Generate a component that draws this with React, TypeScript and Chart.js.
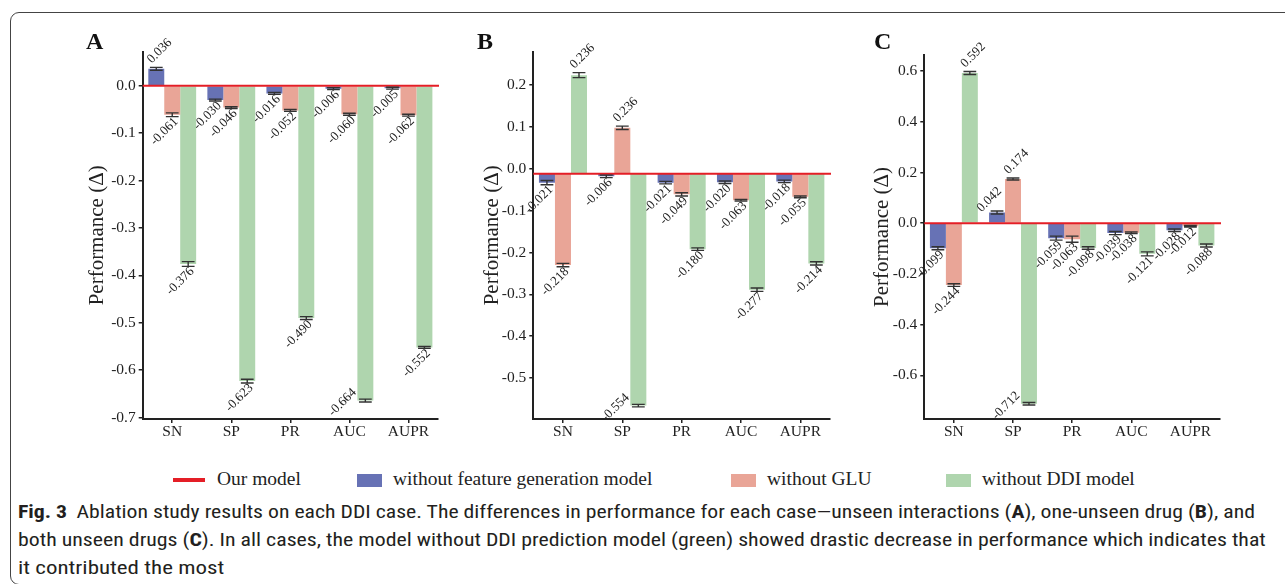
import React, { useEffect, useLayoutEffect, useRef } from "react";
import { Chart, registerables } from "chart.js";

Chart.register(...registerables);

// ---------------- data ----------------
const CATEGORIES = ["SN", "SP", "PR", "AUC", "AUPR"];
const LEGEND_OUR = "Our model";
const SERIES_NAMES = ["without feature generation model", "without GLU", "without DDI model"];
const Y_TITLE = "Performance (\u0394)";

// Panel A (unseen interactions)
const A_FEATURE = [0.036, -0.03, -0.016, -0.006, -0.005];
const A_GLU = [-0.061, -0.046, -0.052, -0.06, -0.062];
const A_DDI = [-0.376, -0.623, -0.49, -0.664, -0.552];
const A_FEATURE_ERR = [0.003, 0.002, 0.002, 0.002, 0.002];
const A_GLU_ERR = [0.004, 0.002, 0.002, 0.002, 0.002];
const A_DDI_ERR = [0.005, 0.004, 0.003, 0.003, 0.002];
const A_BASELINE = 0;
const A_Y_MIN = -0.703;
const A_Y_MAX = 0.072;
const A_Y_STEP = 0.1;

// Panel B (one-unseen drug) : bars start at the shifted reference line
const B_FEATURE = [-0.033, -0.018, -0.033, -0.032, -0.03];
const B_GLU = [-0.23, 0.098, -0.061, -0.075, -0.067];
const B_DDI = [0.224, -0.566, -0.192, -0.289, -0.226];
const B_FEATURE_LABEL = [-0.021, -0.006, -0.021, -0.02, -0.018];
const B_GLU_LABEL = [-0.218, 0.236, -0.049, -0.063, -0.055];
const B_DDI_LABEL = [0.236, -0.554, -0.18, -0.277, -0.214];
const B_FEATURE_ERR = [0.005, 0.003, 0.003, 0.003, 0.003];
const B_GLU_ERR = [0.004, 0.004, 0.004, 0.002, 0.002];
const B_DDI_ERR = [0.006, 0.003, 0.003, 0.004, 0.004];
const B_BASELINE = -0.012;
const B_Y_MIN = -0.598;
const B_Y_MAX = 0.28;
const B_Y_STEP = 0.1;

// Panel C (both unseen drugs)
const C_FEATURE = [-0.099, 0.042, -0.059, -0.039, -0.028];
const C_GLU = [-0.244, 0.174, -0.063, -0.038, -0.012];
const C_DDI = [0.592, -0.712, -0.098, -0.121, -0.088];
const C_FEATURE_ERR = [0.006, 0.006, 0.008, 0.006, 0.005];
const C_GLU_ERR = [0.005, 0.004, 0.012, 0.003, 0.003];
const C_DDI_ERR = [0.006, 0.005, 0.005, 0.008, 0.006];
const C_BASELINE = 0;
const C_Y_MIN = -0.772;
const C_Y_MAX = 0.663;
const C_Y_STEP = 0.2;

// ---------------- style ----------------
const BLUE = "#6772B5";
const SALMON = "#E9A597";
const GREEN = "#AFD5AE";
const RED = "#E41E26";
const AXIS = "#222222";
const TEXT = "#222222";
const SERIF = '"Liberation Serif", "Times New Roman", Times, serif';
const SANS_NARROW =
  '"Liberation Sans Narrow", "Roboto Condensed", "DejaVu Sans Condensed", "Open Sans", sans-serif';

type PanelSpec = {
  letter: string;
  series: number[][];
  labels: number[][];
  errors: number[][];
  baseline: number;
  yMin: number;
  yMax: number;
  yStep: number;
  left: number;
  top: number;
  w: number;
  h: number;
  padTop: number;
  padRight: number;
  padBottom: number;
  xHeight: number;
  yWidth: number;
  titlePad: number;
  letterLeft: number;
};

const PANELS: PanelSpec[] = [
  {
    letter: "A",
    series: [A_FEATURE, A_GLU, A_DDI],
    labels: [A_FEATURE, A_GLU, A_DDI],
    errors: [A_FEATURE_ERR, A_GLU_ERR, A_DDI_ERR],
    baseline: A_BASELINE,
    yMin: A_Y_MIN,
    yMax: A_Y_MAX,
    yStep: A_Y_STEP,
    left: 60,
    top: 20,
    w: 390,
    h: 430,
    padTop: 31.7,
    padRight: 12,
    padBottom: 5,
    xHeight: 26,
    yWidth: 82.7,
    titlePad: 25,
    letterLeft: 86,
  },
  {
    letter: "B",
    series: [B_FEATURE, B_GLU, B_DDI],
    labels: [B_FEATURE_LABEL, B_GLU_LABEL, B_DDI_LABEL],
    errors: [B_FEATURE_ERR, B_GLU_ERR, B_DDI_ERR],
    baseline: B_BASELINE,
    yMin: B_Y_MIN,
    yMax: B_Y_MAX,
    yStep: B_Y_STEP,
    left: 450,
    top: 20,
    w: 390,
    h: 430,
    padTop: 31.7,
    padRight: 10,
    padBottom: 5,
    xHeight: 26,
    yWidth: 83.3,
    titlePad: 30,
    letterLeft: 477,
  },
  {
    letter: "C",
    series: [C_FEATURE, C_GLU, C_DDI],
    labels: [C_FEATURE, C_GLU, C_DDI],
    errors: [C_FEATURE_ERR, C_GLU_ERR, C_DDI_ERR],
    baseline: C_BASELINE,
    yMin: C_Y_MIN,
    yMax: C_Y_MAX,
    yStep: C_Y_STEP,
    left: 840,
    top: 20,
    w: 390,
    h: 430,
    padTop: 35,
    padRight: 10,
    padBottom: 5,
    xHeight: 26,
    yWidth: 84.3,
    titlePad: 30,
    letterLeft: 874,
  },
];

function makeOverlay(spec: PanelSpec) {
  return {
    id: "overlay" + spec.letter,
    afterDatasetsDraw(chart: any) {
      const { ctx, chartArea, scales } = chart;
      const y = scales.y;
      ctx.save();
      // reference line ("Our model")
      const yb = y.getPixelForValue(spec.baseline);
      ctx.strokeStyle = RED;
      ctx.lineWidth = 2;
      ctx.beginPath();
      ctx.moveTo(chartArea.left, yb);
      ctx.lineTo(chartArea.right + 1, yb);
      ctx.stroke();

      chart.data.datasets.forEach((ds: any, di: number) => {
        const meta = chart.getDatasetMeta(di);
        meta.data.forEach((el: any, i: number) => {
          const v = ds.data[i] as number;
          const e = spec.errors[di][i];
          const x = el.x;
          const cw = el.width * 0.8;
          const yv = y.getPixelForValue(v);
          const y1 = y.getPixelForValue(v + e);
          const y2 = y.getPixelForValue(v - e);
          ctx.strokeStyle = "#333333";
          ctx.lineWidth = 1.4;
          ctx.beginPath();
          ctx.moveTo(x - cw / 2, y1);
          ctx.lineTo(x + cw / 2, y1);
          ctx.moveTo(x - cw / 2, y2);
          ctx.lineTo(x + cw / 2, y2);
          ctx.moveTo(x, y1);
          ctx.lineTo(x, y2);
          ctx.stroke();

          // rotated value label
          const txt = spec.labels[di][i].toFixed(3);
          ctx.save();
          ctx.font = `13px ${SERIF}`;
          ctx.fillStyle = TEXT;
          ctx.textBaseline = "middle";
          if (v >= spec.baseline) {
            const next = di < spec.series.length - 1 ? spec.series[di + 1][i] : null;
            const crowded = next !== null && next > v;
            if (crowded) ctx.translate(x - 18, y1 - 1);
            else ctx.translate(x - 7, y1 - 6);
            ctx.rotate(-Math.PI / 4);
            ctx.textAlign = "left";
          } else {
            if (y2 + 27 > chartArea.bottom) ctx.translate(x - 11, yv - 10);
            else ctx.translate(x + 4, y2 + 3);
            ctx.rotate(-Math.PI / 4);
            ctx.textAlign = "right";
          }
          ctx.fillText(txt, 0, 0);
          ctx.restore();
        });
      });
      ctx.restore();
    },
  };
}

function buildConfig(spec: PanelSpec): any {
  const colors = [BLUE, SALMON, GREEN];
  return {
    type: "bar",
    data: {
      labels: CATEGORIES,
      datasets: spec.series.map((d, i) => ({
        label: SERIES_NAMES[i],
        data: d,
        backgroundColor: colors[i],
        borderWidth: 0,
        categoryPercentage: 0.81,
        barPercentage: 1.0,
        base: spec.baseline,
      })),
    },
    options: {
      responsive: false,
      animation: false,
      devicePixelRatio: 1,
      events: [],
      layout: {
        padding: { left: 0, top: spec.padTop, right: spec.padRight, bottom: spec.padBottom },
      },
      plugins: { legend: { display: false }, tooltip: { enabled: false } },
      scales: {
        x: {
          type: "category",
          offset: true,
          grid: {
            display: true,
            drawOnChartArea: false,
            drawTicks: true,
            tickLength: 4,
            offset: false,
            color: AXIS,
            lineWidth: 1.5,
          },
          border: { display: true, color: AXIS, width: 2 },
          ticks: {
            color: TEXT,
            font: { family: SERIF, size: 15.5 },
            padding: 0,
            maxRotation: 0,
            minRotation: 0,
            autoSkip: false,
          },
          afterFit: (s: any) => {
            s.height = spec.xHeight;
          },
        },
        y: {
          type: "linear",
          min: spec.yMin,
          max: spec.yMax,
          grid: {
            display: true,
            drawOnChartArea: false,
            drawTicks: true,
            tickLength: 4,
            color: AXIS,
            lineWidth: 1.5,
          },
          border: { display: true, color: AXIS, width: 2 },
          ticks: {
            stepSize: spec.yStep,
            includeBounds: false,
            color: TEXT,
            font: { family: SERIF, size: 15.5 },
            padding: 3,
            callback: (v: any) => {
              const n = Number(v);
              return Math.abs(n) < 1e-9 ? "0.0" : n.toFixed(1);
            },
          },
          title: {
            display: true,
            text: Y_TITLE,
            color: TEXT,
            font: { family: SERIF, size: 21 },
            padding: { top: spec.titlePad, bottom: 0 },
          },
          afterFit: (s: any) => {
            s.width = spec.yWidth;
          },
        },
      },
    },
    plugins: [makeOverlay(spec)],
  };
}

function Panel({ spec }: { spec: PanelSpec }) {
  const ref = useRef<HTMLCanvasElement>(null);
  useEffect(() => {
    if (!ref.current) return;
    const chart = new Chart(ref.current, buildConfig(spec));
    return () => chart.destroy();
  }, [spec]);
  return (
    <>
      <canvas
        ref={ref}
        width={spec.w}
        height={spec.h}
        style={{ position: "absolute", left: spec.left, top: spec.top, width: spec.w, height: spec.h }}
      />
      <div
        style={{
          position: "absolute",
          left: spec.letterLeft,
          top: 29,
          fontFamily: SERIF,
          fontWeight: "bold",
          fontSize: 24,
          lineHeight: "24px",
          color: "#111",
        }}
      >
        {spec.letter}
      </div>
    </>
  );
}

const LEGEND_ITEMS = [
  { kind: "line", color: RED, swatchLeft: 173, textLeft: 217, text: LEGEND_OUR },
  { kind: "box", color: BLUE, swatchLeft: 357, textLeft: 393, text: SERIES_NAMES[0] },
  { kind: "box", color: SALMON, swatchLeft: 731, textLeft: 767, text: SERIES_NAMES[1] },
  { kind: "box", color: GREEN, swatchLeft: 946, textLeft: 982, text: SERIES_NAMES[2] },
];

const CAPTION_TARGETS = [1237, 1248, 206];

function Caption() {
  const refs = [useRef<HTMLSpanElement>(null), useRef<HTMLSpanElement>(null), useRef<HTMLSpanElement>(null)];
  useLayoutEffect(() => {
    const fit = () => {
      refs.forEach((r, i) => {
        const el = r.current;
        if (!el) return;
        el.style.transform = "none";
        const w = el.offsetWidth;
        if (w > 0) el.style.transform = `scaleX(${CAPTION_TARGETS[i] / w})`;
      });
    };
    fit();
    if ((document as any).fonts && (document as any).fonts.ready) {
      (document as any).fonts.ready.then(fit);
    }
  }, []);
  const lineStyle = (top: number): React.CSSProperties => ({
    position: "absolute",
    left: 18,
    top,
    height: 28,
    lineHeight: "28px",
    whiteSpace: "nowrap",
    fontFamily: SANS_NARROW,
    fontStretch: "condensed",
    fontSize: 18.5,
    color: "#231F20",
  });
  const spanStyle: React.CSSProperties = { display: "inline-block", transformOrigin: "0 50%" };
  return (
    <>
      <div style={lineStyle(498)}>
        <span ref={refs[0]} style={spanStyle}>
          <b style={{ marginRight: 8 }}>Fig. 3</b>Ablation study results on each DDI case. The differences in
          performance for each case—unseen interactions (<b>A</b>), one-unseen drug (<b>B</b>), and
        </span>
      </div>
      <div style={lineStyle(526)}>
        <span ref={refs[1]} style={spanStyle}>
          both unseen drugs (<b>C</b>). In all cases, the model without DDI prediction model (green) showed drastic
          decrease in performance which indicates that
        </span>
      </div>
      <div style={lineStyle(554)}>
        <span ref={refs[2]} style={spanStyle}>
          it contributed the most
        </span>
      </div>
    </>
  );
}

export default function App() {
  return (
    <div
      style={{
        position: "fixed",
        left: 0,
        top: 0,
        width: 1285,
        height: 584,
        overflow: "hidden",
        background: "#fff",
      }}
    >
      <div
        style={{
          position: "absolute",
          left: 10,
          top: 12,
          width: 1320,
          height: 573,
          border: "1px solid #444",
          borderRadius: 9,
          boxSizing: "border-box",
        }}
      />
      {PANELS.map((p) => (
        <Panel key={p.letter} spec={p} />
      ))}
      {LEGEND_ITEMS.map((it) => (
        <React.Fragment key={it.text}>
          <div
            style={{
              position: "absolute",
              left: it.swatchLeft,
              top: it.kind === "line" ? 478 : 474,
              width: it.kind === "line" ? 32 : 25,
              height: it.kind === "line" ? 4 : 13,
              background: it.color,
            }}
          />
          <div
            style={{
              position: "absolute",
              left: it.textLeft,
              top: 469,
              height: 20,
              lineHeight: "20px",
              whiteSpace: "nowrap",
              fontFamily: SERIF,
              fontSize: 19.5,
              color: TEXT,
            }}
          >
            {it.text}
          </div>
        </React.Fragment>
      ))}
      <Caption />
    </div>
  );
}
